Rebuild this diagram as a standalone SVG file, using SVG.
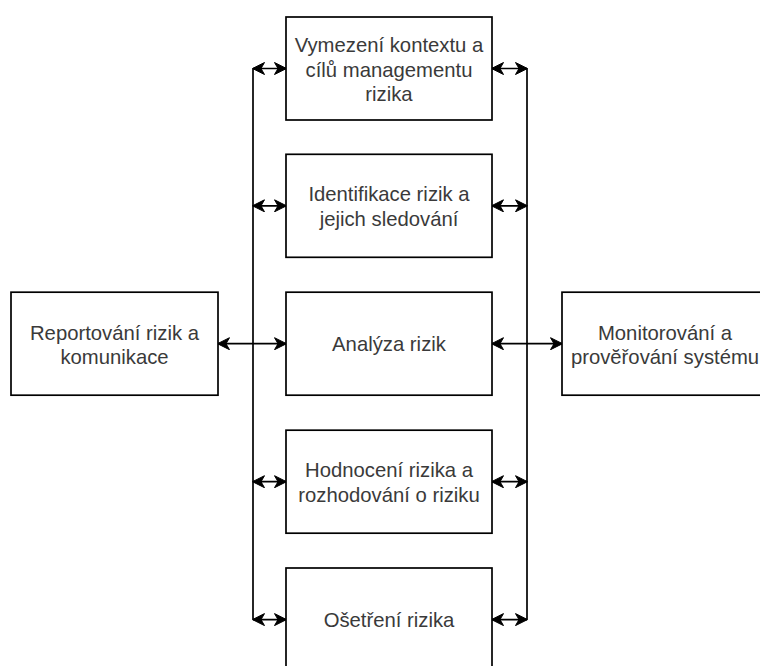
<svg xmlns="http://www.w3.org/2000/svg" width="760" height="666" viewBox="0 0 760 666">
<defs>
<style>
.box{fill:#fff;stroke:#000;stroke-width:1.7}
.t{font-family:"Liberation Sans",Arial,sans-serif;font-size:20.3px;fill:#3a3a3a;text-anchor:middle}
.c{fill:none;stroke:#000;stroke-width:1.7}
.a{marker-start:url(#ah);marker-end:url(#ah)}
</style>
<marker id="ah" viewBox="0 0 13 13" refX="12" refY="6.5" markerWidth="13" markerHeight="13" markerUnits="userSpaceOnUse" orient="auto-start-reverse">
<path d="M0.5,0.5 L12.5,6.5 L0.5,12.5 L4,6.5 Z" fill="#000" stroke="#000" stroke-width="1" stroke-linejoin="round"/>
</marker>
</defs>
<rect width="760" height="666" fill="#fff"/>
<g id="connectors">
<path class="c" d="M253,68.5 V619.6"/>
<path class="c" d="M527,68.5 V619.6"/>
<path class="c a" d="M253,68.5 H286"/>
<path class="c a" d="M253,205.8 H286"/>
<path class="c a" d="M253,481.7 H286"/>
<path class="c a" d="M253,619.6 H286"/>
<path class="c a" d="M492,68.5 H527"/>
<path class="c a" d="M492,205.8 H527"/>
<path class="c a" d="M492,481.7 H527"/>
<path class="c a" d="M492,619.6 H527"/>
<path class="c a" d="M218,343.7 H286"/>
<path class="c a" d="M492,343.7 H562"/>
</g>
<g id="n1">
<rect class="box" x="286" y="17" width="206" height="103"/>
<text class="t" x="389" y="52">Vymezení kontextu a</text>
<text class="t" x="389" y="76.5">cílů managementu</text>
<text class="t" x="389" y="101">rizika</text>
</g>
<g id="n2">
<rect class="box" x="286" y="154.3" width="206" height="103"/>
<text class="t" x="389" y="201">Identifikace rizik a</text>
<text class="t" x="389" y="225.5">jejich sledování</text>
</g>
<g id="n3">
<rect class="box" x="286" y="292.2" width="206" height="103"/>
<text class="t" x="389" y="351">Analýza rizik</text>
</g>
<g id="n4">
<rect class="box" x="286" y="430.2" width="206" height="103"/>
<text class="t" x="389" y="477">Hodnocení rizika a</text>
<text class="t" x="389" y="501.5">rozhodování o riziku</text>
</g>
<g id="n5">
<rect class="box" x="286" y="568" width="206" height="110"/>
<text class="t" x="389" y="627">Ošetření rizika</text>
</g>
<g id="left">
<rect class="box" x="11" y="292.2" width="207" height="103"/>
<text class="t" x="114.5" y="339.5">Reportování rizik a</text>
<text class="t" x="114.5" y="364">komunikace</text>
</g>
<g id="right">
<rect class="box" x="562" y="292.2" width="206" height="103"/>
<text class="t" x="665" y="339.5">Monitorování a</text>
<text class="t" x="665" y="364">provĕřování systému</text>
</g>
</svg>
